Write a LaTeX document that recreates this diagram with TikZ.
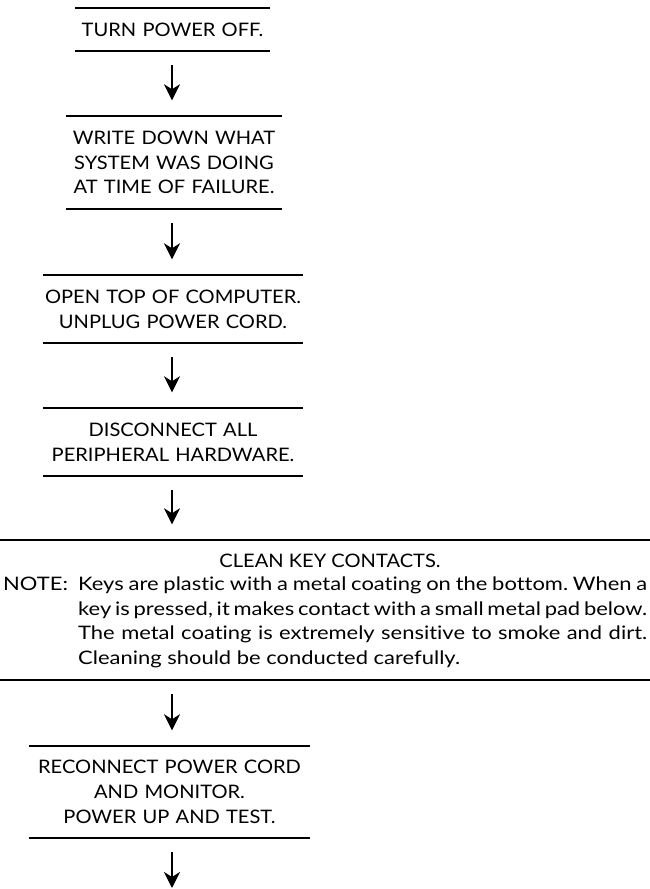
\documentclass[tikz,border=0pt]{standalone}
\usepackage{fontspec}
\setmainfont{Lato}[FakeStretch=1.08, Ligatures=NoCommon]
\newfontfamily\notefont{Lato}[FakeStretch=1.18, Ligatures=NoCommon]
\usetikzlibrary{arrows.meta}
\frenchspacing
\tikzset{
  stepbox/.style={inner sep=0pt, align=center, font=\fontsize{18.6}{24.8}\selectfont},
  notetext/.style={inner sep=0pt, anchor=base west, font=\notefont\fontsize{18.6}{24.8}\selectfont},
  rule/.style={line width=2pt},
  flow/.style={line width=2.7pt, -{Stealth[length=16pt, width=16pt, inset=5pt]},
    shorten <=14pt, shorten >=15.5pt},
}
\newcommand\boxrules[1]{\draw[rule] (#1.north west) -- (#1.north east) (#1.south west) -- (#1.south east);}
\begin{document}
\begin{tikzpicture}[x=1pt,y=-1pt]
\useasboundingbox (0,0) rectangle (650,889);

\node[stepbox, text width=195pt, minimum height=43pt] (b1) at (172.5,29.5) {TURN POWER OFF.};
\node[stepbox, text width=216pt, minimum height=93pt] (b2) at (174,162.5) {WRITE DOWN WHAT\\SYSTEM WAS DOING\\AT TIME OF FAILURE.};
\node[stepbox, text width=260pt, minimum height=68pt] (b3) at (173,309) {OPEN TOP OF COMPUTER.\\UNPLUG POWER CORD.};
\node[stepbox, text width=260pt, minimum height=68pt] (b4) at (173,442) {DISCONNECT ALL\\PERIPHERAL HARDWARE.};
\node[stepbox, minimum width=650pt, minimum height=140pt] (b5) at (325,610) {};
\node[stepbox, text width=281pt, minimum height=92pt] (b6) at (169.5,792) {RECONNECT POWER CORD\\AND MONITOR.\\POWER UP AND TEST.};

\node[stepbox, anchor=base] (t5) at (330,567.6) {CLEAN KEY CONTACTS.};
\node[notetext] (nl) at (3,590.5) {NOTE:};
\node[notetext] (n1) at (78,590.5) {\makebox[569pt][s]{Keys are plastic with a metal coating on the bottom. When a}};
\node[notetext] (n2) at (78,615) {\makebox[569pt][s]{key is pressed, it makes contact with a small metal pad below.}};
\node[notetext] (n3) at (78,639.5) {\makebox[569pt][s]{The metal coating is extremely sensitive to smoke and dirt.}};
\node[notetext] (n4) at (78,664) {Cleaning should be conducted carefully.};

\boxrules{b1}
\boxrules{b2}
\boxrules{b3}
\boxrules{b4}
\boxrules{b5}
\boxrules{b6}

\coordinate (end) at (172,903.5);
\draw[flow] (b1.south -| 172,0) -- (b2.north -| 172,0);
\draw[flow] (b2.south -| 172,0) -- (b3.north -| 172,0);
\draw[flow] (b3.south -| 172,0) -- (b4.north -| 172,0);
\draw[flow] (b4.south -| 172,0) -- (b5.north -| 172,0);
\draw[flow] (b5.south -| 172,0) -- (b6.north -| 172,0);
\draw[flow] (b6.south -| 172,0) -- (end);
\end{tikzpicture}
\end{document}
